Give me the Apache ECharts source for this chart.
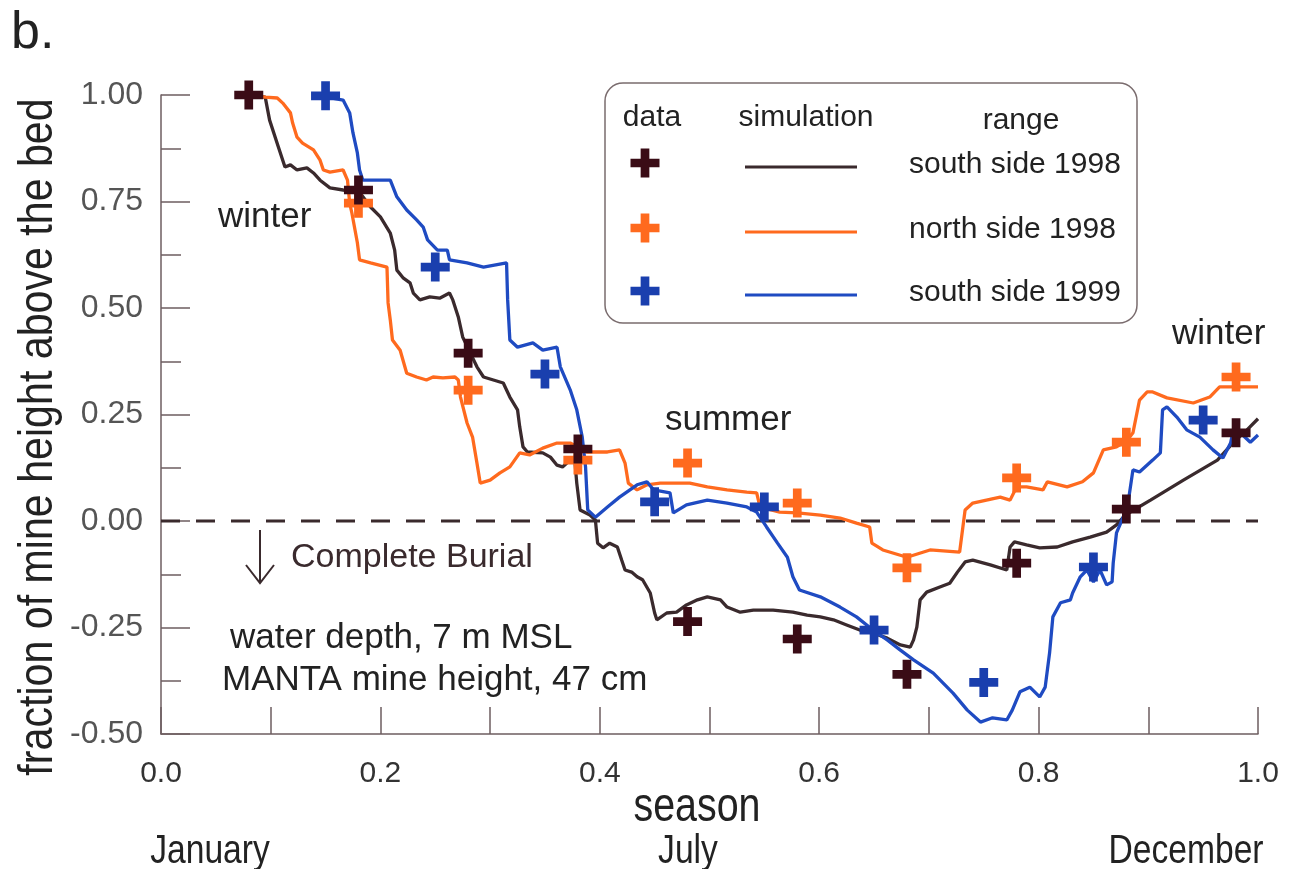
<!DOCTYPE html>
<html>
<head>
<meta charset="utf-8">
<script src="https://cdn.jsdelivr.net/npm/echarts@6/dist/echarts.min.js"></script>
<style>
html,body{margin:0;padding:0;background:#fff;}
#chart{width:1294px;height:869px;}
</style>
</head>
<body>
<div id="chart"></div>
<script>
// ---- data ----
const xTickLabels = ['0.0','0.2','0.4','0.6','0.8','1.0'];
const yTickLabels = ['-0.50','-0.25','0.00','0.25','0.50','0.75','1.00'];
const monthLabels = ['January','July','December'];
const seriesNames = ['south side 1998','north side 1998','south side 1999'];

const southSide1998Data = [[0.08,1.000],[0.18,0.777],[0.28,0.394],[0.38,0.169],[0.48,-0.236],[0.58,-0.277],[0.68,-0.360],[0.78,-0.099],[0.88,0.028],[0.98,0.207]];
const northSide1998Data = [[0.18,0.746],[0.28,0.307],[0.38,0.143],[0.48,0.136],[0.58,0.042],[0.68,-0.110],[0.78,0.101],[0.88,0.185],[0.98,0.338]];
const southSide1999Data = [[0.15,0.998],[0.25,0.596],[0.35,0.345],[0.45,0.045],[0.55,0.033],[0.65,-0.256],[0.75,-0.379],[0.85,-0.108],[0.95,0.237]];

const southSide1998Sim = [[0.083,1.000],[0.095,0.995],[0.099,0.941],[0.107,0.878],[0.113,0.831],[0.118,0.836],[0.124,0.824],[0.133,0.829],[0.139,0.817],[0.145,0.800],[0.154,0.782],[0.166,0.777],[0.181,0.772],[0.191,0.737],[0.200,0.714],[0.209,0.676],[0.213,0.636],[0.215,0.589],[0.221,0.570],[0.227,0.559],[0.230,0.535],[0.236,0.519],[0.245,0.526],[0.254,0.523],[0.263,0.535],[0.266,0.519],[0.271,0.479],[0.275,0.432],[0.282,0.394],[0.288,0.362],[0.294,0.338],[0.303,0.331],[0.312,0.324],[0.318,0.291],[0.325,0.261],[0.327,0.221],[0.330,0.174],[0.334,0.162],[0.348,0.160],[0.355,0.150],[0.361,0.131],[0.366,0.127],[0.373,0.143],[0.377,0.150],[0.379,0.089],[0.382,0.026],[0.391,0.014],[0.396,0.002],[0.398,-0.052],[0.403,-0.063],[0.409,-0.052],[0.416,-0.061],[0.420,-0.092],[0.423,-0.115],[0.429,-0.120],[0.434,-0.131],[0.439,-0.138],[0.446,-0.169],[0.450,-0.216],[0.452,-0.232],[0.461,-0.216],[0.470,-0.214],[0.479,-0.197],[0.489,-0.185],[0.498,-0.178],[0.510,-0.185],[0.516,-0.202],[0.528,-0.214],[0.540,-0.209],[0.558,-0.209],[0.576,-0.214],[0.589,-0.221],[0.601,-0.225],[0.613,-0.232],[0.625,-0.244],[0.637,-0.256],[0.649,-0.263],[0.662,-0.275],[0.674,-0.291],[0.683,-0.296],[0.686,-0.279],[0.689,-0.249],[0.692,-0.185],[0.698,-0.167],[0.710,-0.155],[0.719,-0.146],[0.726,-0.120],[0.733,-0.096],[0.740,-0.092],[0.756,-0.103],[0.771,-0.115],[0.774,-0.061],[0.778,-0.049],[0.789,-0.056],[0.801,-0.063],[0.817,-0.061],[0.831,-0.049],[0.847,-0.038],[0.862,-0.026],[0.871,-0.009],[0.879,0.014],[0.902,0.049],[0.932,0.096],[0.963,0.143],[0.977,0.183],[0.990,0.214],[1.000,0.240]];

const northSide1998Sim = [[0.083,1.000],[0.095,0.995],[0.106,0.993],[0.111,0.981],[0.118,0.958],[0.120,0.934],[0.124,0.901],[0.129,0.887],[0.139,0.871],[0.145,0.847],[0.148,0.824],[0.154,0.819],[0.166,0.824],[0.170,0.800],[0.172,0.746],[0.174,0.723],[0.179,0.653],[0.181,0.613],[0.191,0.606],[0.206,0.596],[0.207,0.512],[0.209,0.472],[0.211,0.425],[0.218,0.401],[0.224,0.347],[0.233,0.338],[0.242,0.331],[0.248,0.338],[0.257,0.336],[0.268,0.338],[0.271,0.331],[0.273,0.291],[0.279,0.230],[0.284,0.197],[0.288,0.136],[0.291,0.089],[0.300,0.096],[0.309,0.113],[0.318,0.127],[0.327,0.160],[0.336,0.155],[0.348,0.171],[0.361,0.183],[0.373,0.183],[0.388,0.162],[0.407,0.162],[0.418,0.167],[0.423,0.136],[0.426,0.089],[0.434,0.073],[0.443,0.085],[0.455,0.089],[0.482,0.089],[0.498,0.080],[0.516,0.073],[0.534,0.068],[0.543,0.066],[0.546,0.033],[0.564,0.021],[0.580,0.019],[0.601,0.014],[0.619,0.007],[0.634,-0.005],[0.646,-0.014],[0.648,-0.052],[0.658,-0.068],[0.680,-0.085],[0.701,-0.068],[0.728,-0.073],[0.733,0.026],[0.740,0.042],[0.765,0.056],[0.774,0.049],[0.780,0.080],[0.789,0.080],[0.804,0.073],[0.808,0.092],[0.826,0.080],[0.840,0.092],[0.850,0.113],[0.859,0.167],[0.871,0.174],[0.881,0.190],[0.886,0.207],[0.892,0.284],[0.899,0.303],[0.904,0.303],[0.917,0.289],[0.941,0.277],[0.956,0.291],[0.965,0.315],[0.977,0.315],[1.000,0.315]];

const southSide1999Sim = [[0.151,0.995],[0.166,0.988],[0.172,0.958],[0.175,0.911],[0.179,0.864],[0.181,0.824],[0.184,0.800],[0.209,0.800],[0.215,0.761],[0.224,0.730],[0.233,0.707],[0.239,0.690],[0.243,0.660],[0.252,0.636],[0.261,0.636],[0.263,0.613],[0.279,0.606],[0.294,0.596],[0.315,0.606],[0.316,0.519],[0.318,0.425],[0.325,0.408],[0.339,0.418],[0.348,0.401],[0.361,0.408],[0.364,0.362],[0.373,0.308],[0.379,0.261],[0.384,0.197],[0.387,0.127],[0.389,0.026],[0.396,0.009],[0.407,0.033],[0.418,0.056],[0.434,0.085],[0.443,0.092],[0.449,0.073],[0.464,0.066],[0.467,0.019],[0.479,0.038],[0.498,0.049],[0.516,0.042],[0.534,0.033],[0.543,0.021],[0.552,-0.014],[0.562,-0.052],[0.571,-0.085],[0.576,-0.131],[0.582,-0.162],[0.601,-0.178],[0.619,-0.202],[0.634,-0.225],[0.649,-0.256],[0.662,-0.279],[0.674,-0.303],[0.686,-0.326],[0.704,-0.357],[0.722,-0.404],[0.735,-0.444],[0.747,-0.472],[0.758,-0.462],[0.771,-0.467],[0.776,-0.444],[0.783,-0.401],[0.792,-0.390],[0.801,-0.413],[0.806,-0.390],[0.810,-0.310],[0.813,-0.225],[0.820,-0.192],[0.829,-0.185],[0.831,-0.169],[0.838,-0.131],[0.844,-0.115],[0.850,-0.143],[0.856,-0.115],[0.862,-0.150],[0.867,-0.143],[0.868,-0.099],[0.871,-0.028],[0.876,0.002],[0.881,0.033],[0.886,0.120],[0.892,0.115],[0.904,0.143],[0.911,0.160],[0.913,0.261],[0.917,0.268],[0.926,0.244],[0.935,0.214],[0.947,0.197],[0.959,0.167],[0.968,0.148],[0.975,0.183],[0.977,0.207],[0.986,0.202],[0.993,0.185],[1.000,0.202]];

const burialLevel = [[0,0],[1,0]];

// ---- style ----
const REG = "'Liberation Sans',Arial,Helvetica,sans-serif";
const C_BLACK_LINE = '#3a2a2d', C_BLACK_MK = '#3a0c16';
const C_ORANGE = '#ff6a1e';
const C_BLUE_LINE = '#1f4bc2', C_BLUE_MK = '#1a3fae';
const AXIS_C = '#6e5e60';
const PLUS = 'path://M35,0H65V35H100V65H65V100H35V65H0V35H35Z';

const chart = echarts.init(document.getElementById('chart'), null, {renderer:'canvas'});

function simSeries(name, data, color){
  return {type:'line', name, data, showSymbol:false, symbol:'none', z:3,
    lineStyle:{color, width:3.3}, animation:false};
}
function dataSeries(name, data, color){
  return {type:'scatter', name, data, symbol:PLUS, symbolSize:29, z:5,
    itemStyle:{color, opacity:1}, animation:false};
}
function txt(text, x, y, size, opts){
  opts = opts || {};
  return {type:'text', x, y, rotation: opts.rot || 0, scaleX: opts.sx || 1, z:10,
    style:{text, fill: opts.fill || '#222', font: size+'px '+REG,
      align: opts.align || 'left', verticalAlign:'middle'}};
}
function plusPoly(cx, cy, s, color){
  const h = s/2, t = s*0.15;
  return {type:'polygon', z:10, shape:{points:[
    [cx-t,cy-h],[cx+t,cy-h],[cx+t,cy-t],[cx+h,cy-t],[cx+h,cy+t],[cx+t,cy+t],
    [cx+t,cy+h],[cx-t,cy+h],[cx-t,cy+t],[cx-h,cy+t],[cx-h,cy-t],[cx-t,cy-t]]},
    style:{fill:color}};
}

const legendRows = [
  {y:163, mk:C_BLACK_MK, ln:C_BLACK_LINE, label:seriesNames[0]},
  {y:228, mk:C_ORANGE, ln:C_ORANGE, label:seriesNames[1]},
  {y:291, mk:C_BLUE_MK, ln:C_BLUE_LINE, label:seriesNames[2]}
];
const legendGraphics = [
  {type:'rect', shape:{x:605, y:83, width:532, height:240, r:18}, z:8,
   style:{fill:'#fff', stroke:'#7a6c6e', lineWidth:1.5}},
  txt('data', 652, 118, 30, {align:'center'}),
  txt('simulation', 806, 118, 30, {align:'center'}),
  txt('range', 1021, 121, 30, {align:'center'})
];
legendRows.forEach(r=>{
  legendGraphics.push(plusPoly(645, r.y, 29, r.mk));
  legendGraphics.push({type:'line', z:10, shape:{x1:745, y1:r.y+4, x2:857, y2:r.y+4}, style:{stroke:r.ln, lineWidth:3}});
  legendGraphics.push(txt(r.label, 909, r.y+2, 30));
});

const option = {
  backgroundColor:'#fff',
  animation:false,
  grid:{left:161, right:36, top:95, bottom:135, containLabel:false},
  xAxis:{type:'value', min:0, max:1, interval:0.1,
    axisLine:{show:true, onZero:false, lineStyle:{color:AXIS_C, width:1.5}},
    axisTick:{show:true, inside:true, length:27, lineStyle:{color:AXIS_C, width:1.5}},
    splitLine:{show:false},
    axisLabel:{margin:25, fontSize:30, fontFamily:REG, color:'#333',
      formatter:function(v){ const k=Math.round(v*10); return k%2===0 ? xTickLabels[k/2] : ''; }}
  },
  yAxis:{type:'value', min:-0.5, max:1.0, interval:0.25,
    axisLine:{show:true, onZero:false, lineStyle:{color:AXIS_C, width:1.5}},
    axisTick:{show:true, inside:true, length:29, lineStyle:{color:AXIS_C, width:1.5}},
    minorTick:{show:true, splitNumber:2, length:20, lineStyle:{color:AXIS_C, width:1.5}},
    splitLine:{show:false}, minorSplitLine:{show:false},
    axisLabel:{margin:18, fontSize:32, fontFamily:REG, color:'#555',
      formatter:function(v){ const k=Math.round((v+0.5)*4); return yTickLabels[k]; }}
  },
  series:[
    {type:'line', name:'burial', data:burialLevel, showSymbol:false, symbol:'none', z:2,
      lineStyle:{color:'#3a2a2d', width:3, type:[19,16]}, animation:false},
    simSeries(seriesNames[0]+' simulation', southSide1998Sim, C_BLACK_LINE),
    simSeries(seriesNames[1]+' simulation', northSide1998Sim, C_ORANGE),
    simSeries(seriesNames[2]+' simulation', southSide1999Sim, C_BLUE_LINE),
    dataSeries(seriesNames[1]+' data', northSide1998Data, C_ORANGE),
    dataSeries(seriesNames[2]+' data', southSide1999Data, C_BLUE_MK),
    dataSeries(seriesNames[0]+' data', southSide1998Data, C_BLACK_MK)
  ],
  graphic:[
    txt('b.', 11, 34, 52),
    txt('fraction of mine height above the bed', 38, 437, 49, {rot:Math.PI/2, align:'center', sx:0.84}),
    txt('season', 697, 808, 48, {align:'center', sx:0.82}),
    txt(monthLabels[0], 210, 852, 41, {align:'center', sx:0.82}),
    txt(monthLabels[1], 688, 852, 41, {align:'center', sx:0.82}),
    txt(monthLabels[2], 1186, 852, 41, {align:'center', sx:0.82}),
    txt('winter', 218, 217, 35),
    txt('summer', 665, 420, 35),
    txt('winter', 1172, 334, 35),
    {type:'line', z:10, shape:{x1:260, y1:530, x2:260, y2:583}, style:{stroke:'#3a2a2d', lineWidth:2}},
    {type:'polyline', z:10, shape:{points:[[246,565],[260,583],[274,565]]}, style:{stroke:'#3a2a2d', lineWidth:2, fill:null}},
    txt('Complete Burial', 291, 558, 34, {fill:'#3a2a2d'}),
    txt('water depth, 7 m MSL', 230, 638, 35),
    txt('MANTA mine height, 47 cm', 222, 680, 35)
  ].concat(legendGraphics)
};
chart.setOption(option);
</script>
</body>
</html>
